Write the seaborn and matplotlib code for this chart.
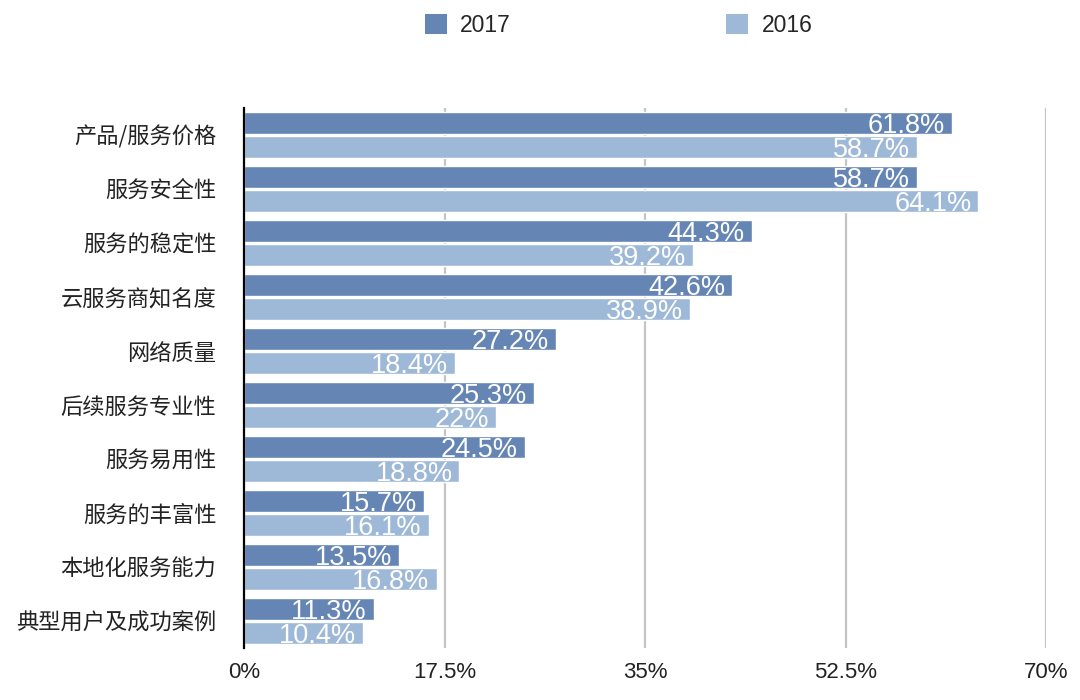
import numpy as np
import pandas as pd
import matplotlib
matplotlib.use("Agg")
import matplotlib.pyplot as plt
import seaborn as sns
from matplotlib.patches import Patch

# data
categories = ["产品/服务价格", "服务安全性", "服务的稳定性", "云服务商知名度", "网络质量",
              "后续服务专业性", "服务易用性", "服务的丰富性", "本地化服务能力", "典型用户及成功案例"]
vals_2017 = [61.8, 58.7, 44.3, 42.6, 27.2, 25.3, 24.5, 15.7, 13.5, 11.3]
vals_2016 = [58.7, 64.1, 39.2, 38.9, 18.4, 22.0, 18.8, 16.1, 16.8, 10.4]
years = ["2017", "2016"]
x_ticks = [0, 17.5, 35, 52.5, 70]
x_ticklabels = ["0%", "17.5%", "35%", "52.5%", "70%"]

colors = {"2017": "#6585b4", "2016": "#9eb9d8"}

df = pd.DataFrame({
    "category": categories * 2,
    "value": vals_2017 + vals_2016,
    "year": ["2017"] * len(categories) + ["2016"] * len(categories),
})

sns.set_theme(style="white")
plt.rcParams["font.family"] = ["Liberation Sans", "Noto Sans CJK SC", "DejaVu Sans"]

fig = plt.figure(figsize=(10.8, 7), dpi=100)
ax = fig.add_axes([0.226, 0.074, 0.7425, 0.772])

sns.barplot(data=df, x="value", y="category", hue="year", hue_order=years,
            order=categories, palette=colors, orient="h", width=0.88, gap=0.06,
            saturation=1, ax=ax, legend=False)

# vertical grid
for xv in x_ticks[1:]:
    ax.axvline(xv, color="#c4c4c4", lw=1.6, zorder=0)

ax.set_xlim(0, 70)
ax.set_ylim(len(categories) - 0.5, -0.5)
ax.set_xticks(x_ticks)
ax.set_xticklabels(x_ticklabels, fontsize=16, color="#222222")
ax.tick_params(axis="x", length=0, pad=10)
ax.tick_params(axis="y", length=0, pad=20, labelsize=16)
for lab in ax.get_yticklabels():
    lab.set_family(["Noto Sans CJK SC", "DejaVu Sans"])
    lab.set_color("#222222")
ax.set_xlabel("")
ax.set_ylabel("")

for side in ["top", "right", "bottom"]:
    ax.spines[side].set_visible(False)
ax.spines["left"].set_color("black")
ax.spines["left"].set_linewidth(1.6)

# value labels inside bar ends
all_vals = [vals_2017, vals_2016]
for cont, vals in zip(ax.containers, all_vals):
    texts = ax.bar_label(cont, labels=[f"{v:g}%" for v in vals], padding=-5,
                         color="white", fontsize=19.5)
    for t in texts:
        t.set_ha("right")
        t.set_va("center_baseline")

# legend
handles = [Patch(facecolor=colors[y], edgecolor="none") for y in years]
fig.legend(handles, years, loc="center", bbox_to_anchor=(0.573, 0.964), ncol=2,
           frameon=False, fontsize=16.5, handlelength=0.95, handleheight=0.95,
           handletextpad=0.6, columnspacing=9.4)

fig.savefig("out.png", dpi=100)
